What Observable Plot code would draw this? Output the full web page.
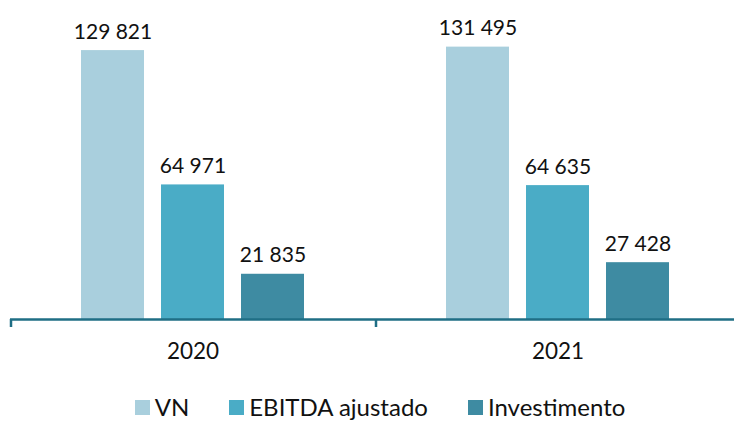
<!DOCTYPE html>
<html>
<head>
<meta charset="utf-8">
<script src="https://cdn.jsdelivr.net/npm/d3@7"></script>
<script src="https://cdn.jsdelivr.net/npm/@observablehq/plot@0.6"></script>
<style>
  html, body { margin: 0; padding: 0; background: #fff; }
  #chart { width: 734px; }
  .legend { display: flex; justify-content: center; align-items: flex-end; height: 49px; width: 734px;
            padding-left: 26px; font-family: Lato, "Open Sans", sans-serif; font-size: 24px; color: #111; box-sizing: border-box; }
  .legend .item { display: flex; align-items: flex-end; margin: 0 20px; line-height: 24px; padding-bottom: 5px; }
  .legend .sw { width: 15px; height: 15px; margin-right: 5px; margin-bottom: 4px; }
</style>
</head>
<body>
<div id="chart"></div>
<script>
const years = ["2020", "2021"];
const series = ["VN", "EBITDA ajustado", "Investimento"];
const vn = [129821, 131495];
const ebitda = [64971, 64635];
const investimento = [21835, 27428];
const colors = ["#a9cfdd", "#4aacc6", "#3e8ba2"];

const valuesBySeries = [vn, ebitda, investimento];
const rows = [];
years.forEach((year, i) => {
  series.forEach((s, j) => rows.push({year, series: s, value: valuesBySeries[j][i]}));
});

const fmt = d3.formatLocale({decimal: ",", thousands: " ", grouping: [3], currency: ["", ""]}).format(",d");
const axisColor = "#1f6e85";

const chart = Plot.plot({
  width: 734,
  height: 375,
  marginTop: 29,
  marginBottom: 56,
  marginLeft: 10,
  marginRight: -6,
  style: {fontFamily: "Lato, 'Open Sans', sans-serif", fontSize: "21px", color: "#111", background: "#fff"},
  facet: {data: rows, x: "year"},
  fx: {domain: years, padding: 0, label: null, tickSize: 0, tickPadding: 24},
  x: {domain: series, axis: null, paddingInner: 0.21, paddingOuter: 0.87},
  y: {domain: [0, 140000], axis: null},
  color: {domain: series, range: colors},
  marks: [
    Plot.barY(rows, {x: "series", y: "value", fill: "series"}),
    Plot.text(rows, {x: "series", y: "value", text: d => fmt(d.value), lineAnchor: "bottom", dy: -12, fill: "#111"}),
    Plot.ruleY([0], {stroke: axisColor, strokeWidth: 2.5})
  ]
});

// enlarge the year labels of the facet axis
d3.select(chart).selectAll('g[aria-label^="fx-axis"]').attr("font-size", 22.5);

// group boundary ticks on the category axis, placed via the library's scales
const fxScale = chart.scale("fx");
const yScale = chart.scale("y");
const y0 = yScale.apply(0);
const edges = years.map(y => fxScale.apply(y));
edges.push(fxScale.apply(years[years.length - 1]) + fxScale.bandwidth);
d3.select(chart).append("g")
  .selectAll("line").data(edges).join("line")
  .attr("x1", d => d + 1).attr("x2", d => d + 1)
  .attr("y1", y0).attr("y2", y0 + 8)
  .attr("stroke", axisColor).attr("stroke-width", 2.5);

document.getElementById("chart").appendChild(chart);

const legend = d3.select("body").append("div").attr("class", "legend");
series.forEach((s, i) => {
  const item = legend.append("div").attr("class", "item");
  item.append("div").attr("class", "sw").style("background", colors[i]);
  item.append("span").text(s);
});
</script>
</body>
</html>
